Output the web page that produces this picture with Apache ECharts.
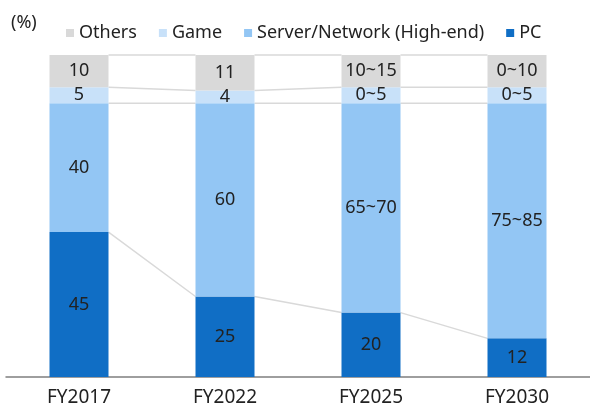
<!DOCTYPE html>
<html>
<head>
<meta charset="utf-8">
<script src="https://cdn.jsdelivr.net/npm/echarts@6/dist/echarts.min.js"></script>
<style>
html, body { margin: 0; padding: 0; background: #fff; }
#chart { width: 590px; height: 409px; }
</style>
</head>
<body>
<div id="chart"></div>
<script>
const years = ['FY2017', 'FY2022', 'FY2025', 'FY2030']
const pc = [45, 25, 20, 12]
const server = [40, 60, 65, 73]
const game = [5, 4, 5, 5]
const others = [10, 11, 10, 10]
const pcLabels = ['45', '25', '20', '12']
const serverLabels = ['40', '60', '65~70', '75~85']
const gameLabels = ['5', '4', '0~5', '0~5']
const othersLabels = ['10', '11', '10~15', '0~10']

const font = "'Noto Sans', sans-serif"
const barW = 59

// cumulative tops of each layer, for the grey connector lines
const lvPc = pc
const lvServer = pc.map((v, i) => v + server[i])
const lvGame = lvServer.map((v, i) => v + game[i])
const lvTop = lvGame.map((v, i) => v + others[i])
const levels = [lvPc, lvServer, lvGame, lvTop]

function barSeries(name, data, labels, color) {
    return {
        name: name,
        type: 'bar',
        stack: 'total',
        barWidth: barW,
        data: data,
        itemStyle: { color: color },
        label: {
            show: true,
            position: 'inside',
            color: '#222',
            fontSize: 18,
            fontFamily: font,
            formatter: p => labels[p.dataIndex]
        },
        emphasis: { disabled: true }
    }
}

const option = {
    animation: false,
    textStyle: { fontFamily: font },
    grid: { left: 6, right: -4, top: 55, bottom: 32 },
    legend: {
        data: ['Others', 'Game', 'Server/Network (High-end)', 'PC'],
        left: 61,
        top: 19,
        icon: 'rect',
        itemWidth: 8,
        itemHeight: 8,
        itemGap: 22,
        textStyle: { fontSize: 18, color: '#222', fontFamily: font }
    },
    graphic: [{
        type: 'text',
        left: 11,
        top: 14,
        style: { text: '(%)', fontSize: 18, fill: '#222', fontFamily: font }
    }],
    xAxis: {
        type: 'category',
        data: years,
        axisLine: { lineStyle: { color: '#7f7f7f', width: 1.5 } },
        axisTick: { show: false },
        axisLabel: { fontSize: 19, color: '#222', margin: 11, fontFamily: font }
    },
    yAxis: {
        type: 'value',
        min: 0,
        max: 100,
        show: false
    },
    series: [
        barSeries('PC', pc, pcLabels, '#106ec5'),
        barSeries('Server/Network (High-end)', server, serverLabels, '#93c6f4'),
        barSeries('Game', game, gameLabels, '#c8e1f9'),
        barSeries('Others', others, othersLabels, '#d9d9d9'),
        {
            type: 'custom',
            silent: true,
            data: [[0], [1], [2]],
            renderItem: (params, api) => {
                const i = api.value(0)
                const children = levels.map(lv => {
                    const a = api.coord([i, lv[i]])
                    const b = api.coord([i + 1, lv[i + 1]])
                    return {
                        type: 'line',
                        shape: { x1: a[0] + barW / 2, y1: a[1], x2: b[0] - barW / 2, y2: b[1] },
                        style: { stroke: '#d9d9d9', lineWidth: 1.5 }
                    }
                })
                return { type: 'group', children: children }
            },
            z: 1
        }
    ]
}

const chart = echarts.init(document.getElementById('chart'))
chart.setOption(option)
window.addEventListener('resize', () => {
    chart.resize()
})
</script>
</body>
</html>
